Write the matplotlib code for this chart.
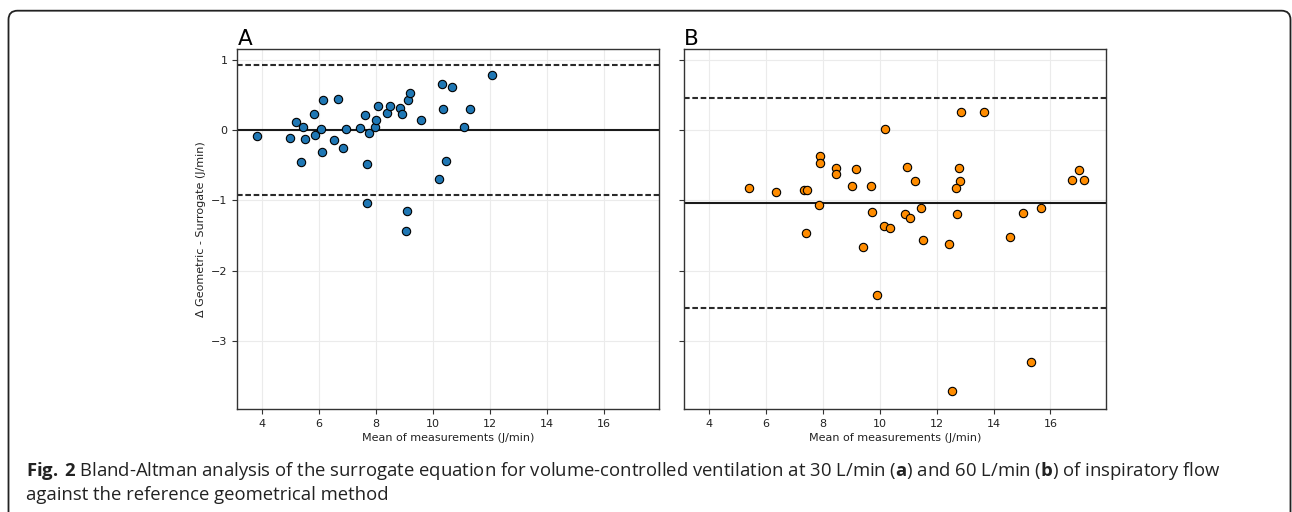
import matplotlib
matplotlib.use('Agg')
import matplotlib.pyplot as plt
from matplotlib.patches import FancyBboxPatch
from matplotlib.transforms import IdentityTransform

plt.rcParams['mathtext.fontset'] = 'custom'
plt.rcParams['mathtext.rm'] = 'Open Sans'
plt.rcParams['mathtext.bf'] = 'Open Sans:bold'

# panel A: 30 L/min
a_mean = [3.81, 4.98, 5.18, 5.42, 5.35, 5.50, 5.82, 5.85, 6.06, 6.13,
          6.11, 6.52, 6.68, 6.84, 6.96, 7.44, 7.60, 7.74, 7.70, 7.70,
          7.96, 8.01, 8.09, 8.39, 8.49, 8.84, 8.93, 9.11, 9.19, 9.08,
          9.07, 9.58, 10.33, 10.35, 10.67, 10.47, 10.23, 11.08, 11.32, 12.07]
a_diff = [-0.085, -0.114, 0.114, 0.043, -0.46, -0.123, 0.223, -0.066, 0.009, 0.431,
          -0.318, -0.142, 0.441, -0.261, 0.014, 0.033, 0.209, -0.043, -0.479, -1.033,
          0.047, 0.142, 0.336, 0.246, 0.341, 0.308, 0.223, 0.427, 0.531, -1.156,
          -1.432, 0.137, 0.659, 0.299, 0.607, -0.445, -0.692, 0.038, 0.294, 0.787]
a_bias, a_upper, a_lower = 0.0, 0.93, -0.92

# panel B: 60 L/min
b_mean = [5.41, 6.36, 7.35, 7.43, 7.89, 7.89, 7.87, 8.48, 8.45, 9.17,
          9.03, 9.68, 9.72, 10.17, 10.87, 11.07, 10.95, 11.25, 11.46, 12.87,
          13.67, 12.80, 12.81, 12.68, 12.72, 15.05, 15.68, 16.99, 16.77, 17.18,
          7.42, 9.41, 10.15, 10.35, 11.52, 12.45, 14.56, 9.89, 15.31, 12.54]
b_diff = [-0.820, -0.882, -0.848, -0.853, -0.365, -0.474, -1.066, -0.545, -0.630, -0.555,
          -0.791, -0.801, -1.161, 0.009, -1.194, -1.246, -0.526, -0.730, -1.104, 0.256,
          0.256, -0.536, -0.720, -0.829, -1.190, -1.185, -1.114, -0.569, -0.711, -0.716,
          -1.460, -1.668, -1.360, -1.393, -1.569, -1.616, -1.526, -2.341, -3.303, -3.711]
b_bias, b_upper, b_lower = -1.04, 0.45, -2.53

x_ticks = [4, 6, 8, 10, 12, 14, 16]
y_ticks = [1, 0, -1, -2, -3]

fig = plt.figure(figsize=(12.92, 5.12), dpi=100)
ax_a = fig.add_axes([0.1837, 0.2006, 0.3262, 0.7037])
ax_b = fig.add_axes([0.5296, 0.2006, 0.3262, 0.7037], sharey=ax_a)

panels = [
    (ax_a, a_mean, a_diff, a_bias, a_upper, a_lower, '#1f77b4', 'A'),
    (ax_b, b_mean, b_diff, b_bias, b_upper, b_lower, '#ff8c00', 'B'),
]
for ax, xm, yd, bias, up, lo, col, lab in panels:
    ax.grid(True, color='#ebebeb', linewidth=0.8, zorder=0)
    ax.set_axisbelow(True)
    ax.axhline(bias, color='#1a1a1a', linewidth=1.5, zorder=2)
    for v in (up, lo):
        ax.axhline(v, color='#2a2a2a', linewidth=1.5, linestyle=(0, (2.7, 1.3)), zorder=2)
    ax.scatter(xm, yd, s=36, color=col, edgecolors='black', linewidths=0.8, zorder=3)
    ax.set_xlim(3.13, 17.94)
    ax.set_ylim(-3.973, 1.152)
    ax.set_xticks(x_ticks)
    ax.set_yticks(y_ticks)
    ax.tick_params(labelsize=8, length=3.5, width=0.8, color='#333333', labelcolor='#222222')
    for sp in ax.spines.values():
        sp.set_color('#333333')
        sp.set_linewidth(1.0)
    ax.set_xlabel('Mean of measurements (J/min)', fontsize=8, color='#222222', labelpad=3)
    ax.set_title(lab, loc='left', fontsize=15.5, pad=3)

ax_a.set_ylabel('Δ Geometric - Surrogate (J/min)', fontsize=8, color='#222222')
plt.setp(ax_b.get_yticklabels(), visible=False)

# rounded frame around the figure
frame = FancyBboxPatch((8.5, -20), 1282, 521.3, boxstyle='round,pad=0,rounding_size=9',
                       transform=IdentityTransform(), fill=False,
                       edgecolor='#222222', linewidth=1.3)
fig.add_artist(frame)

cap1 = (r'$\mathbf{Fig.}$$\mathbf{\,2}$ Bland-Altman analysis of the surrogate equation for '
        r'volume-controlled ventilation at 30 L/min ($\mathbf{a}$) and 60 L/min '
        r'($\mathbf{b}$) of inspiratory flow')
cap2 = 'against the reference geometrical method'
fig.text(26 / 1292, 1 - 475.7 / 512, cap1, family='Open Sans', fontsize=13.3,
         va='baseline', color='#222222')
fig.text(26 / 1292, 1 - 500 / 512, cap2, family='Open Sans', fontsize=13.3,
         va='baseline', color='#222222')

fig.savefig('out.png', dpi=100)
